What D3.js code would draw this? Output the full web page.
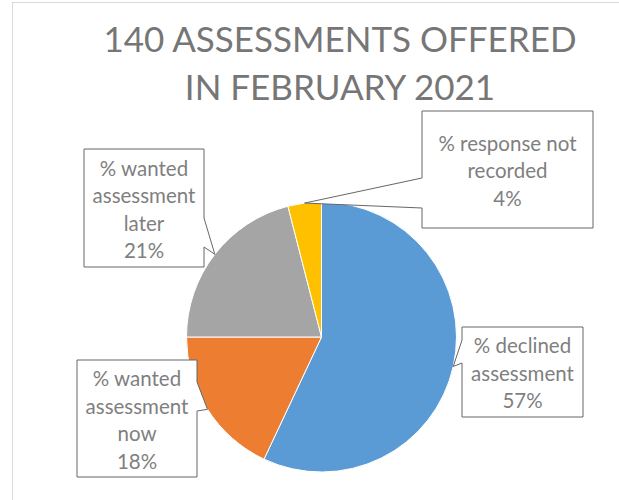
<!DOCTYPE html>
<html>
<head>
<meta charset="utf-8">
<script src="https://cdn.jsdelivr.net/npm/d3@7"></script>
<style>
  html, body { margin: 0; padding: 0; background: #fff; }
  svg { display: block; font-family: Lato, 'Open Sans', sans-serif; }
</style>
</head>
<body>
<div id="pieChart"></div>
<script>
// データ
var categories = ['declined', 'now', 'later', 'notRecorded'];
var values = [57, 18, 21, 4];
var labelLines = [
  ['% declined', 'assessment', '57%'],
  ['% wanted', 'assessment', 'now', '18%'],
  ['% wanted', 'assessment', 'later', '21%'],
  ['% response not', 'recorded', '4%']
];
var titleLines = ['140 ASSESSMENTS OFFERED', 'IN FEBRUARY 2021'];

(function() {
  var width = 619;
  var height = 500;

  // 色
  var color = d3.scaleOrdinal()
    .domain(categories)
    .range(['#5b9bd5', '#ed7d31', '#a5a5a5', '#ffc000']);

  // パイの中心と半径
  var cx = 321.5;
  var cy = 337;
  var radius = 135;

  // 吹き出しの枠 (side: 三角の付く辺, b0/b1: 付け根のy)
  var boxes = {
    declined: { x: 462, y: 327, w: 121, h: 90, side: 'left', b0: 340, b1: 363 },
    now: { x: 77, y: 360, w: 120, h: 117, side: 'right', b0: 382, b1: 411 },
    later: { x: 84, y: 149, w: 120, h: 118, side: 'right', b0: 218, b1: 247 },
    notRecorded: { x: 422, y: 111, w: 171, h: 117, side: 'left', b0: 178, b1: 208 }
  };

  var svg = d3.select('#pieChart').append('svg')
    .attr('width', width)
    .attr('height', height);

  // グラフエリアの枠
  svg.append('rect')
    .attr('x', 12.5)
    .attr('y', 2.5)
    .attr('width', 700)
    .attr('height', 600)
    .attr('fill', '#fff')
    .attr('stroke', '#d9d9d9');

  // タイトル
  svg.append('g').selectAll('text')
    .data(titleLines)
    .enter()
    .append('text')
    .attr('x', 340)
    .attr('y', function(d, i) { return 52 + i * 48; })
    .attr('text-anchor', 'middle')
    .attr('font-size', 35)
    .attr('fill', '#767676')
    .text(function(d) { return d; });

  var pie = d3.pie().sort(null).value(function(d) { return d; });
  var arcs = pie(values);

  var arc = d3.arc().innerRadius(0).outerRadius(radius);
  var edge = d3.arc().innerRadius(radius).outerRadius(radius);

  var chart = svg.append('g')
    .attr('transform', 'translate(' + cx + ',' + cy + ')');

  chart.selectAll('.slice')
    .data(arcs)
    .enter()
    .append('path')
    .classed('slice', true)
    .attr('d', arc)
    .attr('fill', function(d, i) { return color(categories[i]); })
    .attr('stroke', '#fff')
    .attr('stroke-width', 1);

  // 吹き出しの形
  function calloutPath(b, tip) {
    var x0 = b.x, y0 = b.y, x1 = b.x + b.w, y1 = b.y + b.h;
    var p = d3.path();
    p.moveTo(x0, y0);
    p.lineTo(x1, y0);
    if (b.side === 'right') {
      p.lineTo(x1, b.b0);
      p.lineTo(tip[0], tip[1]);
      p.lineTo(x1, b.b1);
    }
    p.lineTo(x1, y1);
    p.lineTo(x0, y1);
    if (b.side === 'left') {
      p.lineTo(x0, b.b1);
      p.lineTo(tip[0], tip[1]);
      p.lineTo(x0, b.b0);
    }
    p.closePath();
    return p.toString();
  }

  var labels = svg.append('g').selectAll('.callout')
    .data(arcs)
    .enter()
    .append('g')
    .classed('callout', true);

  labels.append('path')
    .attr('d', function(d, i) {
      var c = edge.centroid(d);
      return calloutPath(boxes[categories[i]], [cx + c[0], cy + c[1]]);
    })
    .attr('fill', '#fff')
    .attr('stroke', '#676767')
    .attr('stroke-width', 1);

  labels.each(function(d, i) {
    var b = boxes[categories[i]];
    var lines = labelLines[i];
    var step = 27.5;
    var mid = b.y + b.h / 2 + 1.5;
    var first = mid - (lines.length - 1) * step / 2;
    d3.select(this).selectAll('text')
      .data(lines)
      .enter()
      .append('text')
      .attr('x', b.x + b.w / 2)
      .attr('y', function(t, j) { return first + j * step; })
      .attr('dy', '0.36em')
      .attr('text-anchor', 'middle')
      .attr('font-size', 20.5)
      .attr('fill', '#7f7f7f')
      .text(function(t) { return t; });
  });
})();
</script>
</body>
</html>
